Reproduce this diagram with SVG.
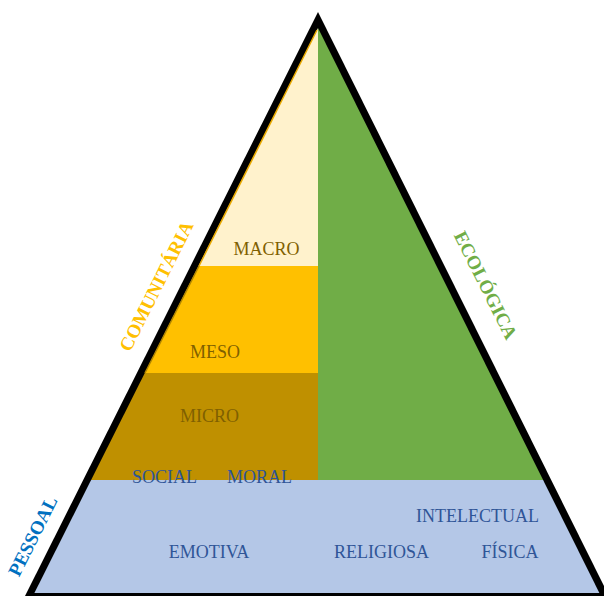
<svg xmlns="http://www.w3.org/2000/svg" width="604" height="599" viewBox="0 0 604 599">
<style>
.t{font-family:"Liberation Serif","Times New Roman",serif;font-size:18px;text-anchor:middle}
.gold{fill:#7F6000}
.blue{fill:#2F5597}
.side{font-family:"Liberation Serif","Times New Roman",serif;font-size:19px;font-weight:bold;text-anchor:middle}
</style>
<rect width="604" height="599" fill="#ffffff"/>
<g id="outline">
<polygon points="318,12 25,596 609,596" fill="#000000"/>
</g>
<g id="macro">
<polygon points="318,28 318,266 198.5,266" fill="#FFF2CC"/>
<text class="t gold" x="266.5" y="255">MACRO</text>
</g>
<g id="meso">
<polygon points="198.5,266 318,266 318,373 144.8,373" fill="#FFC000"/>
<text class="t gold" x="215" y="358">MESO</text>
</g>
<g id="micro">
<polygon points="144.8,373 318,373 318,480 91.1,480" fill="#BF9000"/>
<text class="t gold" x="209.5" y="422">MICRO</text>
</g>
<g id="ecologica">
<polygon points="318,28 543.1,480 318,480" fill="#70AD47"/>
</g>
<g id="pessoal">
<polygon points="91.1,480 543.1,480 599.4,593 34.4,593" fill="#B4C7E7"/>
<text class="t blue" x="164.5" y="483">SOCIAL</text>
<text class="t blue" x="259.5" y="483">MORAL</text>
<text class="t blue" x="477.5" y="522">INTELECTUAL</text>
<text class="t blue" x="209" y="558">EMOTIVA</text>
<text class="t blue" x="381.5" y="558">RELIGIOSA</text>
<text class="t blue" x="510" y="558">FÍSICA</text>
</g>
<g id="edges">
<line x1="317" y1="30" x2="199" y2="266" stroke="#E8A900" stroke-width="1.5"/>
<line x1="199" y1="266" x2="145" y2="373" stroke="#B08500" stroke-width="1.5"/>
</g>
<g id="labels">
<text class="side" fill="#FFC000" transform="translate(162,289) rotate(-63.4)">COMUNITÁRIA</text>
<text class="side" fill="#70AD47" transform="translate(480,288) rotate(63.4)">ECOLÓGICA</text>
<text class="side" fill="#0070C0" transform="translate(38.5,539) rotate(-63.4)">PESSOAL</text>
</g>
</svg>
